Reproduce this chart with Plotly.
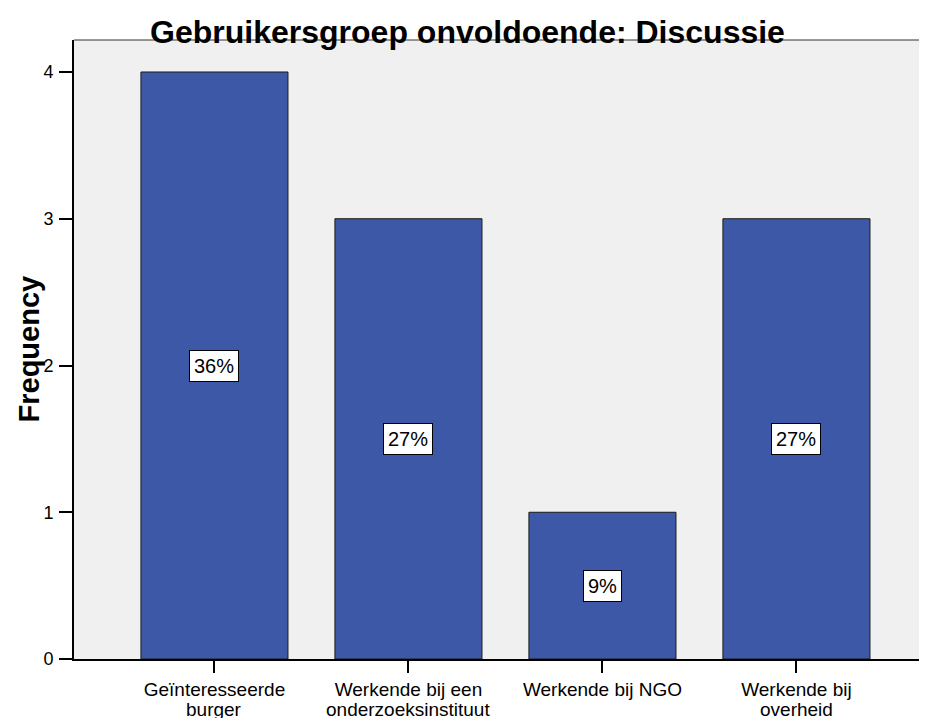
import plotly.graph_objects as go

# data
categories = [
    "Geïnteresseerde<br>burger",
    "Werkende bij een<br>onderzoeksinstituut",
    "Werkende bij NGO",
    "Werkende bij<br>overheid",
]
counts = [4, 3, 1, 3]
percent_labels = ["36%", "27%", "9%", "27%"]

bar_color = "rgb(62,88,168)"
font = "Liberation Sans, Arial, sans-serif"

# the page body adds an 8px margin, so the figure is sized to fit the window
W, H = 919, 710

fig = go.Figure()
fig.add_trace(
    go.Bar(
        x=list(range(len(categories))),
        y=counts,
        width=0.758,
        marker=dict(color=bar_color, line=dict(color="#1a1a1a", width=1)),
        hoverinfo="skip",
    )
)

# percent boxes in the middle of each bar
for i, (c, label) in enumerate(zip(counts, percent_labels)):
    fig.add_annotation(
        x=i, y=c / 2, text=label, showarrow=False,
        font=dict(family=font, size=20, color="black"),
        bgcolor="white", bordercolor="black", borderwidth=1, borderpad=4,
    )

# category labels: first line as tick text, second line as a tighter annotation
first_lines = [c.split("<br>")[0] for c in categories]
for i, c in enumerate(categories):
    parts = c.split("<br>")
    if len(parts) > 1:
        fig.add_annotation(
            x=i, xref="x", y=0, yref="paper", yanchor="top", yshift=-38,
            text=parts[1], showarrow=False,
            font=dict(family=font, size=19, color="black"),
        )

# y axis title, placed by hand
fig.add_annotation(
    x=0, xref="paper", xanchor="center", xshift=-46,
    y=0.5, yref="paper", yanchor="middle",
    text="<b>Frequency</b>", textangle=-90, showarrow=False,
    font=dict(family=font, size=29, color="black"),
)

# thin frame line on top of plot area
fig.add_shape(type="line", xref="paper", yref="paper", x0=0, x1=1, y0=1, y1=1,
              line=dict(color="#333333", width=1))

fig.update_layout(
    width=W, height=H,
    margin=dict(l=66, r=0, t=32, b=59),
    paper_bgcolor="white",
    plot_bgcolor="#F0F0F0",
    showlegend=False,
    font=dict(family=font, color="black"),
    title=dict(
        text="<b>Gebruikersgroep onvoldoende: Discussie</b>",
        font=dict(family=font, size=32, color="black"),
        xref="container", x=0.5, xanchor="center",
        yref="container", y=1 - 35 / H, yanchor="bottom",
        pad=dict(t=0, b=0),
    ),
    xaxis=dict(
        range=[-0.724, 3.673],
        tickmode="array",
        tickvals=list(range(len(categories))),
        ticktext=first_lines,
        ticks="outside", ticklen=12, tickwidth=2, tickcolor="black",
        ticklabelstandoff=0,
        automargin=False,
        showline=True, linecolor="black", linewidth=2,
        showgrid=False, zeroline=False,
        tickfont=dict(family=font, size=19, color="black"),
    ),
    yaxis=dict(
        range=[0, 4.218],
        tickvals=[0, 1, 2, 3, 4],
        ticks="outside", ticklen=13, tickwidth=2, tickcolor="black",
        ticklabelstandoff=2,
        automargin=False,
        showline=True, linecolor="black", linewidth=2,
        showgrid=False, zeroline=False,
        tickfont=dict(family=font, size=18, color="black"),
    ),
)

fig.write_html("out.html")
